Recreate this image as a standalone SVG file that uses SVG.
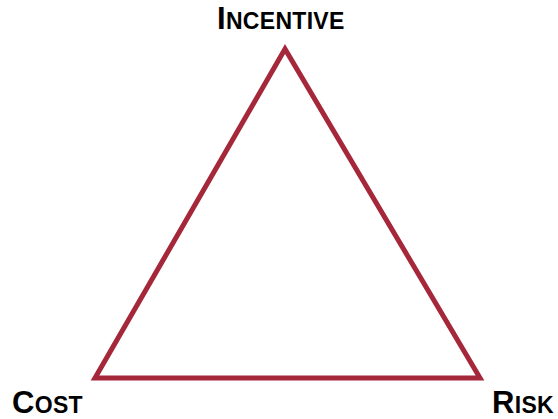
<svg xmlns="http://www.w3.org/2000/svg" width="558" height="419" viewBox="0 0 558 419">
<style>
.lbl{font-family:"Liberation Sans",Arial,sans-serif;font-weight:bold;fill:#000;font-size:23px;letter-spacing:0.3px}
.big{font-size:31px}
.edge{fill:none;stroke:#a4273a;stroke-width:5;stroke-linejoin:miter}
</style>
<rect width="558" height="419" fill="#fff"/>
<g id="connectors">
<polygon class="edge" points="285,49 95,378 480,378"/>
</g>
<g id="incentive"><text class="lbl" x="217" y="29"><tspan class="big">I</tspan>NCENTIVE</text></g>
<g id="cost"><text class="lbl" x="12" y="413"><tspan class="big">C</tspan>OST</text></g>
<g id="risk"><text class="lbl" x="492" y="413"><tspan class="big">R</tspan>ISK</text></g>
</svg>
